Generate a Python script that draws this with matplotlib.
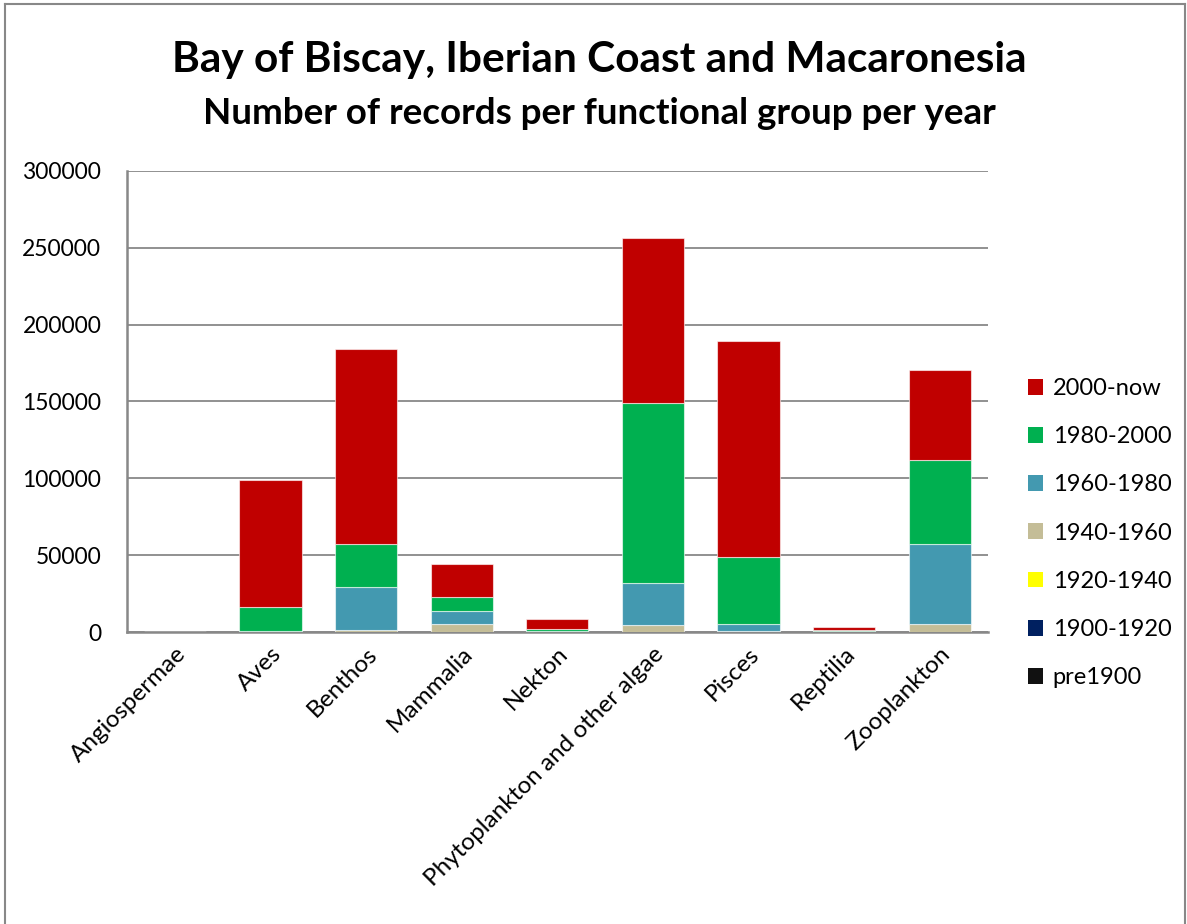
import matplotlib
matplotlib.use("Agg")
import matplotlib.pyplot as plt
import numpy as np
from matplotlib.patches import Rectangle
from matplotlib.lines import Line2D

plt.rcParams['font.family'] = ['Lato', 'DejaVu Sans']

categories = ["Angiospermae", "Aves", "Benthos", "Mammalia", "Nekton",
              "Phytoplankton and other algae", "Pisces", "Reptilia", "Zooplankton"]
periods = ["pre1900", "1900-1920", "1920-1940", "1940-1960", "1960-1980", "1980-2000", "2000-now"]
colors = ["#111111", "#002060", "#FFFF00", "#C4BD97", "#4399B0", "#00B050", "#C00000"]

pre1900   = [0, 0, 0, 0, 0, 0, 0, 0, 0]
y1900_20  = [0, 0, 0, 0, 0, 0, 0, 0, 0]
y1920_40  = [0, 0, 0, 0, 0, 0, 0, 0, 0]
y1940_60  = [0, 300, 1500, 5000, 200, 4600, 900, 200, 5200]
y1960_80  = [0, 500, 27600, 8700, 600, 27300, 4300, 300, 52100]
y1980_00  = [0, 15700, 28200, 9100, 1200, 117100, 43800, 500, 54600]
y2000_now = [0, 82500, 126900, 21450, 6300, 107400, 140400, 2500, 58600]

series = [pre1900, y1900_20, y1920_40, y1940_60, y1960_80, y1980_00, y2000_now]

fig = plt.figure(figsize=(11.87, 9.24), dpi=100)
ax = fig.add_axes([0.107, 0.316, 0.725, 0.499])

x = np.arange(len(categories))
bottom = np.zeros(len(categories))
handles = []
for name, vals, col in zip(periods, series, colors):
    v = np.array(vals, dtype=float)
    ax.bar(x, v, 0.65, bottom=bottom, color=col, edgecolor=(1, 1, 1, 0.6), linewidth=0.8, zorder=3)
    bottom += v
    handles.append(Rectangle((0, 0), 1, 1, facecolor=col, edgecolor='none'))

ax.set_xlim(-0.5, len(categories) - 0.5)
ax.set_ylim(0, 300000)
ax.set_yticks(np.arange(0, 300001, 50000))
ax.set_yticklabels([str(v) for v in range(0, 300001, 50000)], fontsize=16.5)
ax.yaxis.grid(True, color='#888888', linewidth=1.3, zorder=0)
ax.set_xticks(x)
ax.set_xticklabels(categories, rotation=45, ha='right', rotation_mode='anchor', fontsize=17.5)
ax.tick_params(axis='x', length=0, pad=8)
ax.tick_params(axis='y', length=0, pad=18.5)
for s in ['top', 'right']:
    ax.spines[s].set_visible(False)
for s in ['left', 'bottom']:
    ax.spines[s].set_color('#888888')
    ax.spines[s].set_linewidth(1.8)

leg = fig.legend(handles[::-1], periods[::-1], loc='center left', bbox_to_anchor=(0.848, 0.423),
                 frameon=False, fontsize=17, handlelength=0.65, handleheight=0.65,
                 labelspacing=1.15, handletextpad=0.4)

fig.text(0.505, 0.935, "Bay of Biscay, Iberian Coast and Macaronesia", ha='center', va='center',
         fontsize=30.5, fontweight='bold')
fig.text(0.505, 0.877, "Number of records per functional group per year", ha='center', va='center',
         fontsize=26.5, fontweight='bold')

# outer border (left, top, right)
fig.add_artist(Line2D([0.004, 0.004], [0.0, 0.996], transform=fig.transFigure, color='#888888', linewidth=1.5))
fig.add_artist(Line2D([0.004, 0.998], [0.996, 0.996], transform=fig.transFigure, color='#888888', linewidth=1.5))
fig.add_artist(Line2D([0.998, 0.998], [0.0, 0.996], transform=fig.transFigure, color='#888888', linewidth=1.5))

fig.savefig("out.png", dpi=100)
